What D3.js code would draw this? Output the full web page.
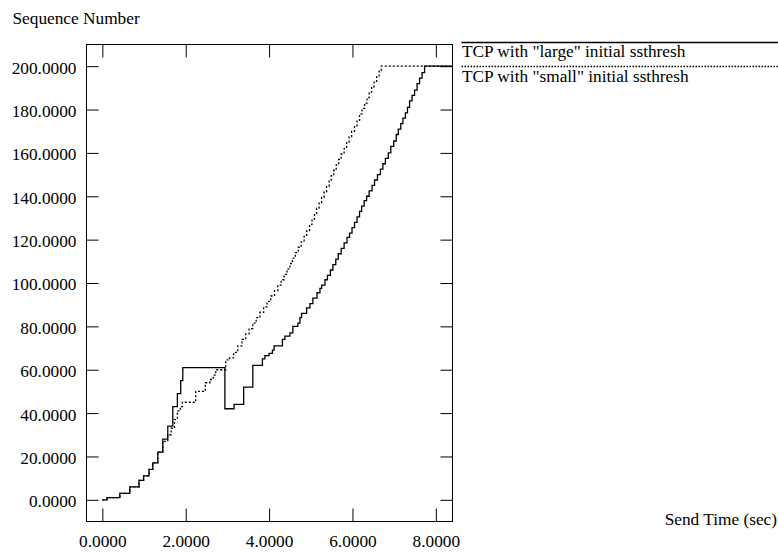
<!DOCTYPE html>
<html>
<head>
<meta charset="utf-8">
<script src="https://cdn.jsdelivr.net/npm/d3@7/dist/d3.min.js"></script>
<style>
  html, body { margin: 0; padding: 0; background: #fff; }
  svg { display: block; }
  text { font-family: "Liberation Serif", "Times New Roman", serif; fill: #000; }
</style>
</head>
<body>
<svg id="chart" width="778" height="553"></svg>
<script>
// ---- data ----
const xTicks = [0, 2, 4, 6, 8];
const yTicks = [0, 20, 40, 60, 80, 100, 120, 140, 160, 180, 200];
const seriesNames = ['TCP with "large" initial ssthresh', 'TCP with "small" initial ssthresh'];

// "large" initial ssthresh (solid): step points [time, seq]
const largeTime = [0.00, 0.11, 0.42, 0.66, 0.88, 0.99, 1.12, 1.21, 1.33, 1.45, 1.57, 1.69, 1.80, 1.88, 1.93,
  2.94, 3.16, 3.39, 3.61, 3.84, 3.90, 4.00, 4.08, 4.12, 4.32, 4.38, 4.50, 4.57, 4.69, 4.74, 4.78, 4.90, 4.98,
  5.05, 5.15, 5.22, 5.26, 5.34, 5.40, 5.47, 5.53, 5.60, 5.66, 5.73, 5.80, 5.87, 5.93, 5.99, 6.05, 6.11, 6.17,
  6.22, 6.28, 6.34, 6.40, 6.47, 6.53, 6.60, 6.67, 6.73, 6.79, 6.86, 6.92, 6.99, 7.05, 7.10, 7.16, 7.21, 7.27,
  7.32, 7.37, 7.43, 7.49, 7.55, 7.61, 7.67, 7.73, 8.40];
const largeSeq = [0, 1, 3, 6, 9, 11, 14, 17, 22, 28, 34, 43, 49, 55, 61,
  42, 44, 52, 62, 65, 66.5, 67.5, 69, 71, 74, 75.5, 77, 80, 81.5, 84, 86, 88.5, 90.5,
  93, 95.5, 97.5, 99, 101.5, 103.5, 106, 108.5, 111, 113.5, 116, 118.5, 121, 123, 125.5, 128, 130.5, 133,
  135.5, 138, 140, 142.5, 145, 147.5, 150, 152.5, 155, 157.5, 160, 163, 165.5, 168.5, 171, 173.5, 176, 178.5,
  181, 184, 186.5, 189, 192, 194.5, 197, 200, 200];

// "small" initial ssthresh (dotted): step points [time, seq]
const smallTime = [0.00, 0.11, 0.42, 0.66, 0.88, 0.99, 1.12, 1.21, 1.33, 1.45, 1.57, 1.65, 1.73, 1.80, 1.87, 1.92,
  2.24, 2.47, 2.58, 2.66, 2.72, 2.96, 3.05, 3.15, 3.25, 3.35, 3.44, 3.52, 3.61, 3.69, 3.78, 3.87, 3.95, 4.04,
  4.13, 4.21, 4.29, 4.36, 4.43, 4.50, 4.56, 4.63, 4.70, 4.77, 4.84, 4.90, 4.97, 5.03, 5.09, 5.14, 5.20, 5.26,
  5.32, 5.38, 5.44, 5.49, 5.55, 5.61, 5.67, 5.73, 5.80, 5.86, 5.92, 5.98, 6.05, 6.11, 6.17, 6.23, 6.29, 6.35,
  6.40, 6.46, 6.52, 6.58, 6.64, 6.69, 8.40];
const smallSeq = [0, 1, 3, 6, 9, 11, 14, 17, 22, 27, 30, 33, 37, 41, 43, 45,
  50, 54, 55.5, 57.5, 60, 64.5, 65.5, 68, 71, 74, 76.5, 79, 81.5, 84, 86.5, 89, 91.5, 94,
  96.5, 99, 101.5, 104, 106.5, 109, 111.5, 114, 116.5, 119, 121.5, 124, 127, 129.5, 132, 134.5, 137, 139.5,
  142, 144.5, 147, 149.5, 152, 154.5, 157, 159.5, 162, 165, 167.5, 170, 172.5, 175, 178, 180.5, 183, 185.5,
  188, 190.5, 193, 195.5, 198, 200, 200];

// ---- drawing ----
const FS = 17.3;
const svg = d3.select("#chart");
const L = 86.5, R = 452.5, T = 44.5, B = 521.5;

const x = d3.scaleLinear().domain([-0.38, 8.4]).range([L, R]);
const y = d3.scaleLinear().domain([-10, 210]).range([B, T]);
const fmt = d3.format(".4f");

svg.append("defs").append("clipPath").attr("id", "clip")
  .append("rect").attr("x", L).attr("y", T).attr("width", R - L).attr("height", B - T);

function styleAxis(g) {
  g.select(".domain").remove();
  g.selectAll(".tick line").attr("stroke", "#000").attr("stroke-width", 1);
  g.selectAll("text").attr("font-size", FS).attr("font-family", '"Liberation Serif", serif').attr("fill", "#000");
}

svg.append("g").attr("transform", `translate(${L},0)`)
  .call(d3.axisLeft(y).tickValues(yTicks).tickFormat(fmt).tickSize(-12).tickPadding(10))
  .call(styleAxis)
  .selectAll("text").attr("dy", "0.4em");

svg.append("g").attr("transform", `translate(${R},0)`)
  .call(d3.axisRight(y).tickValues(yTicks).tickFormat("").tickSize(-12))
  .call(styleAxis);

svg.append("g").attr("transform", `translate(0,${B})`)
  .call(d3.axisBottom(x).tickValues(xTicks).tickFormat(fmt).tickSize(-13).tickPadding(13))
  .call(styleAxis);

svg.append("g").attr("transform", `translate(0,${T})`)
  .call(d3.axisTop(x).tickValues(xTicks).tickFormat("").tickSize(-13))
  .call(styleAxis);

svg.append("rect").attr("x", L).attr("y", T).attr("width", R - L).attr("height", B - T)
  .attr("fill", "none").attr("stroke", "#000").attr("stroke-width", 1);

const line = d3.line().x(d => x(d[0])).y(d => y(d[1])).curve(d3.curveStepAfter);
const smallData = d3.zip(smallTime, smallSeq);
const largeData = d3.zip(largeTime, largeSeq);

const plot = svg.append("g").attr("clip-path", "url(#clip)");
plot.append("path").datum(smallData).attr("d", line)
  .attr("fill", "none").attr("stroke", "#000").attr("stroke-width", 1.3).attr("stroke-dasharray", "2,2");
plot.append("path").datum(largeData).attr("d", line)
  .attr("fill", "none").attr("stroke", "#000").attr("stroke-width", 1.3);

// axis titles
svg.append("text").attr("x", 12.5).attr("y", 23.5).attr("font-size", FS).text("Sequence Number");
svg.append("text").attr("x", 777).attr("y", 525).attr("text-anchor", "end").attr("font-size", FS).text("Send Time (sec)");

// legend
const legX0 = 461.5, legX1 = 778;
const leg = svg.append("g");
leg.append("line").attr("x1", legX0).attr("x2", legX1).attr("y1", 42.5).attr("y2", 42.5)
  .attr("stroke", "#000").attr("stroke-width", 1.3);
leg.append("text").attr("x", 462).attr("y", 57).attr("font-size", FS).text(seriesNames[0]);
leg.append("line").attr("x1", legX0).attr("x2", legX1).attr("y1", 66.5).attr("y2", 66.5)
  .attr("stroke", "#000").attr("stroke-width", 1.3).attr("stroke-dasharray", "1.5,1.5");
leg.append("text").attr("x", 462).attr("y", 81.5).attr("font-size", FS).text(seriesNames[1]);
</script>
</body>
</html>
